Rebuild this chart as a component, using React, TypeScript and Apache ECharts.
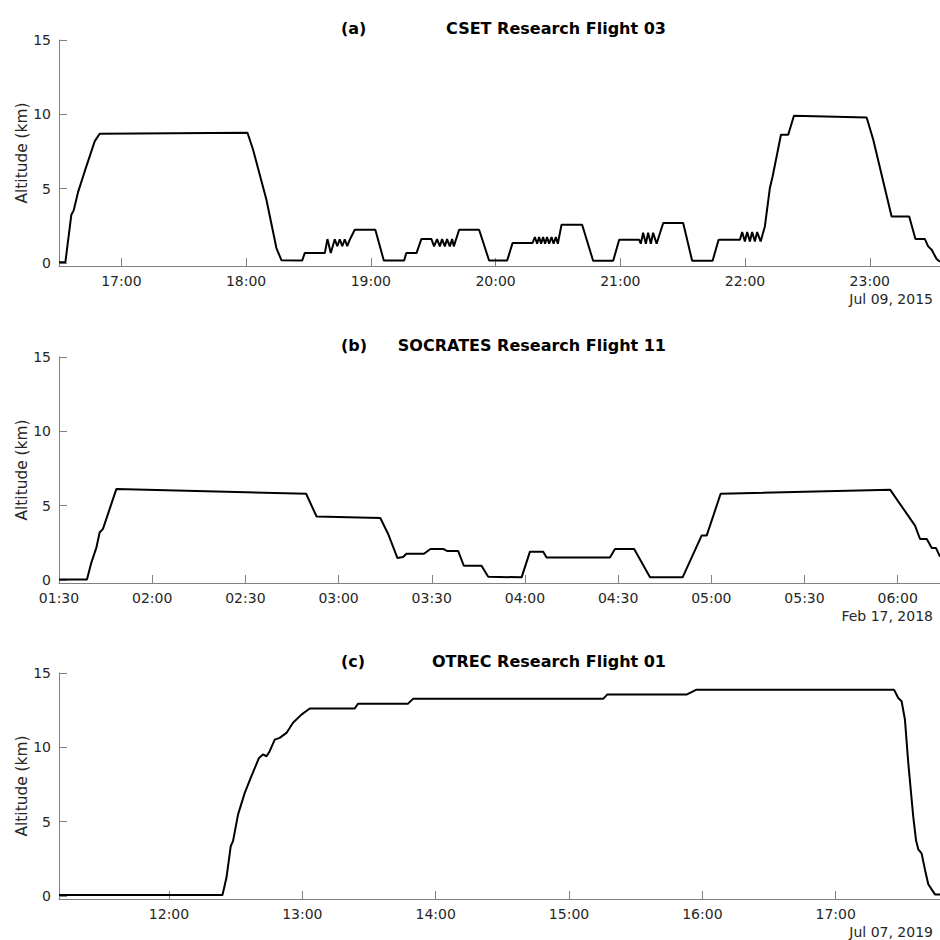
import React, { useEffect, useRef } from "react";
import * as echarts from "echarts";

// ---- Data (time in decimal hours UTC, altitude in km) ----
const CSET_HOURS = [
  16.5, 16.551, 16.599, 16.618, 16.652, 16.706, 16.786, 16.826, 18.011, 18.056,
  18.163, 18.243, 18.283, 18.45, 18.47, 18.631,
  18.652, 18.679, 18.711, 18.731, 18.751, 18.771, 18.791, 18.811, 18.831, 18.871,
  19.036, 19.104, 19.267, 19.284, 19.366, 19.405, 19.486,
  19.507, 19.531, 19.553, 19.571, 19.593, 19.611, 19.633, 19.652, 19.665, 19.708,
  19.868, 19.948, 20.093, 20.136, 20.296,
  20.315, 20.333, 20.349, 20.365, 20.381, 20.397, 20.413, 20.429, 20.449, 20.465,
  20.483, 20.499, 20.529, 20.694, 20.782, 20.943, 20.991, 21.151,
  21.164, 21.183, 21.205, 21.223, 21.245, 21.263, 21.291, 21.344, 21.504, 21.576,
  21.74, 21.788, 21.959,
  21.977, 21.999, 22.017, 22.039, 22.057, 22.079, 22.097, 22.125, 22.159, 22.199,
  22.221, 22.288, 22.346, 22.392, 22.975, 23.028, 23.175, 23.316, 23.366, 23.442,
  23.468, 23.496, 23.536, 23.563,
];
const CSET_ALT = [
  0.05, 0.05, 3.25, 3.54, 4.75, 6.16, 8.18, 8.7, 8.76, 7.62,
  4.26, 1.01, 0.19, 0.17, 0.67, 0.67,
  1.61, 0.67, 1.6, 1.13, 1.6, 1.13, 1.6, 1.13, 1.57, 2.24,
  2.24, 0.17, 0.17, 0.67, 0.67, 1.61, 1.61,
  1.12, 1.61, 1.12, 1.61, 1.12, 1.61, 1.12, 1.61, 1.12, 2.24,
  2.24, 0.17, 0.17, 1.34, 1.34,
  1.75, 1.3, 1.75, 1.3, 1.75, 1.3, 1.75, 1.3, 1.75, 1.3,
  1.75, 1.3, 2.58, 2.58, 0.15, 0.15, 1.57, 1.57,
  1.3, 2.04, 1.3, 2.04, 1.3, 2.04, 1.3, 2.69, 2.69, 0.15,
  0.15, 1.57, 1.57,
  2.08, 1.45, 2.08, 1.45, 2.08, 1.45, 2.08, 1.45, 2.46, 5.04,
  5.82, 8.63, 8.63, 9.9, 9.79, 8.29, 3.13, 3.13, 1.61, 1.61,
  1.12, 0.89, 0.27, 0.09,
];

const SOCRATES_HOURS = [
  1.5, 1.65, 1.674, 1.701, 1.718, 1.736, 1.808, 2.826, 2.882, 3.224,
  3.266, 3.316, 3.346, 3.364, 3.458, 3.493, 3.561, 3.584, 3.642, 3.672,
  3.767, 3.803, 3.982, 4.027, 4.098, 4.116, 4.456, 4.483, 4.586, 4.671,
  4.846, 4.948, 4.975, 5.05, 5.959, 6.093, 6.12, 6.156, 6.183, 6.205,
  6.227,
];
const SOCRATES_ALT = [
  0.04, 0.04, 1.19, 2.2, 3.2, 3.44, 6.13, 5.8, 4.27, 4.17,
  3.1, 1.48, 1.55, 1.77, 1.77, 2.09, 2.09, 1.95, 1.95, 0.96,
  0.96, 0.22, 0.18, 1.91, 1.91, 1.52, 1.52, 2.09, 2.09, 0.18,
  0.18, 2.99, 2.99, 5.8, 6.08, 3.66, 2.76, 2.76, 2.16, 2.16,
  1.57,
];

const OTREC_HOURS = [
  11.175, 12.401, 12.431, 12.463, 12.48, 12.518, 12.568, 12.618, 12.675, 12.705,
  12.731, 12.755, 12.793, 12.83, 12.881, 12.93, 12.993, 13.056, 13.393, 13.418,
  13.793, 13.83, 15.256, 15.286, 15.881, 15.956, 17.437, 17.469, 17.494, 17.519,
  17.544, 17.581, 17.602, 17.619, 17.644, 17.669, 17.694, 17.744, 17.782,
];
const OTREC_ALT = [
  0.07, 0.07, 1.24, 3.36, 3.69, 5.49, 6.94, 8.06, 9.29, 9.52,
  9.4, 9.74, 10.52, 10.64, 10.97, 11.65, 12.2, 12.61, 12.61, 12.94,
  12.94, 13.26, 13.26, 13.55, 13.55, 13.88, 13.88, 13.32, 13.1, 11.87,
  8.96, 5.37, 3.76, 3.14, 2.87, 1.79, 0.79, 0.11, 0.11,
];

const Y_TICKS = [0, 5, 10, 15];
const CSET_TICKS = [17, 18, 19, 20, 21, 22, 23];
const SOCRATES_TICKS = [1.5, 2, 2.5, 3, 3.5, 4, 4.5, 5, 5.5, 6];
const OTREC_TICKS = [12, 13, 14, 15, 16, 17];

const PANEL_LABELS = ["(a)", "(b)", "(c)"];
const PANEL_TITLES = [
  "CSET Research Flight 03",
  "SOCRATES Research Flight 11",
  "OTREC Research Flight 01",
];
const PANEL_DATES = ["Jul 09, 2015", "Feb 17, 2018", "Jul 07, 2019"];
const X_RANGES = [
  [16.5, 23.563],
  [1.5, 6.227],
  [11.175, 17.782],
];

const FONT = "DejaVu Sans";
const AXIS_GRAY = "#808080";
const TEXT_COLOR = "#262626";

function fmtHour(v: number): string {
  const m = Math.round(v * 60);
  const hh = Math.floor(m / 60);
  const mm = m % 60;
  return String(hh).padStart(2, "0") + ":" + String(mm).padStart(2, "0");
}

export default function App() {
  const ref = useRef<HTMLDivElement>(null);

  useEffect(() => {
    if (!ref.current) return;
    const chart = echarts.init(ref.current, undefined, { renderer: "svg" });

    const tops = [40, 357, 673];
    const gridH = 226;
    const xs = [
      { h: CSET_HOURS, a: CSET_ALT, t: CSET_TICKS },
      { h: SOCRATES_HOURS, a: SOCRATES_ALT, t: SOCRATES_TICKS },
      { h: OTREC_HOURS, a: OTREC_ALT, t: OTREC_TICKS },
    ];

    const grid = tops.map((top) => ({
      left: 59,
      top,
      width: 881,
      height: gridH,
      containLabel: false,
    }));

    const xAxis = xs.map((p, i) => ({
      type: "value",
      gridIndex: i,
      min: X_RANGES[i][0],
      max: X_RANGES[i][1],
      axisLine: { show: true, onZero: false, lineStyle: { color: AXIS_GRAY, width: 1 } },
      axisTick: {
        show: true,
        inside: true,
        length: 8,
        customValues: p.t,
        lineStyle: { color: AXIS_GRAY, width: 1 },
      },
      axisLabel: {
        show: true,
        customValues: p.t,
        margin: 8,
        color: TEXT_COLOR,
        fontFamily: FONT,
        fontSize: 14,
        formatter: (v: number) => fmtHour(v),
      },
      splitLine: { show: false },
    }));

    const yAxis = xs.map((_, i) => ({
      type: "value",
      gridIndex: i,
      min: -0.2,
      max: 15,
      name: "Altitude (km)",
      nameLocation: "middle",
      nameGap: 30,
      nameMoveOverlap: false,
      nameTextStyle: { color: TEXT_COLOR, fontFamily: FONT, fontSize: 15.4 },
      axisLine: { show: true, lineStyle: { color: AXIS_GRAY, width: 1 } },
      axisTick: {
        show: true,
        inside: true,
        length: 8,
        customValues: Y_TICKS,
        lineStyle: { color: AXIS_GRAY, width: 1 },
      },
      axisLabel: {
        show: true,
        customValues: Y_TICKS,
        margin: 8,
        color: TEXT_COLOR,
        fontFamily: FONT,
        fontSize: 14,
      },
      splitLine: { show: false },
    }));

    const series = xs.map((p, i) => ({
      type: "line",
      xAxisIndex: i,
      yAxisIndex: i,
      data: p.h.map((h, k) => [h, p.a[k]]),
      showSymbol: false,
      symbol: "none",
      lineStyle: { color: "#000000", width: 2 },
      clip: true,
    }));

    const graphic: any[] = [];
    tops.forEach((top, i) => {
      graphic.push({
        type: "text",
        x: 341,
        y: top - 12,
        style: {
          text: PANEL_LABELS[i],
          fill: "#000",
          font: `bold 16px "${FONT}"`,
          textAlign: "left",
          textVerticalAlign: "middle",
        },
      });
      graphic.push({
        type: "text",
        x: 666,
        y: top - 12,
        style: {
          text: PANEL_TITLES[i],
          fill: "#000",
          font: `bold 16px "${FONT}"`,
          textAlign: "right",
          textVerticalAlign: "middle",
        },
      });
      graphic.push({
        type: "text",
        x: 933,
        y: top + gridH + 33,
        style: {
          text: PANEL_DATES[i],
          fill: TEXT_COLOR,
          font: `14px "${FONT}"`,
          textAlign: "right",
          textVerticalAlign: "middle",
        },
      });
    });

    chart.setOption({
      animation: false,
      backgroundColor: "#ffffff",
      grid,
      xAxis,
      yAxis,
      series,
      graphic,
    } as any);

    return () => chart.dispose();
  }, []);

  return (
    <div
      ref={ref}
      style={{ position: "absolute", left: 0, top: 0, width: 940, height: 940 }}
    />
  );
}
